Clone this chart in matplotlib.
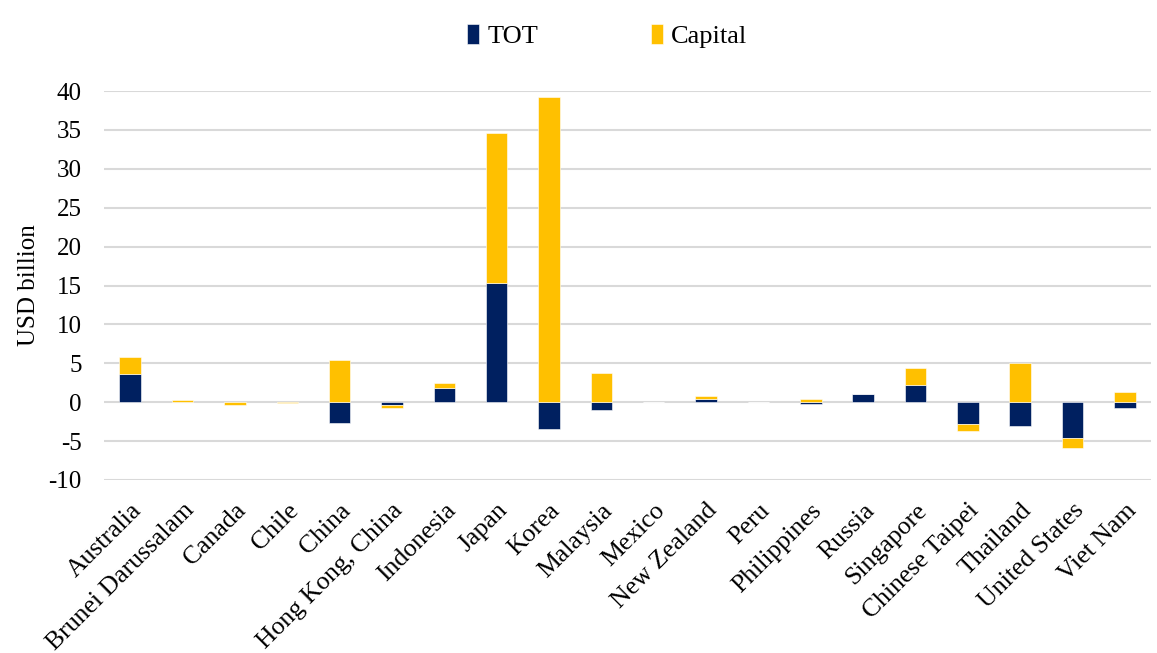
import numpy as np
import matplotlib.pyplot as plt

economies = ["Australia", "Brunei Darussalam", "Canada", "Chile", "China",
             "Hong Kong, China", "Indonesia", "Japan", "Korea", "Malaysia",
             "Mexico", "New Zealand", "Peru", "Philippines", "Russia",
             "Singapore", "Chinese Taipei", "Thailand", "United States", "Viet Nam"]
tot = [3.6, 0.0, 0.0, 0.0, -2.7, -0.35, 1.8, 15.3, -3.5, -1.0,
       0.0, 0.35, 0.0, -0.2, 1.1, 2.2, -2.75, -3.0, -4.65, -0.7]
capital = [2.2, 0.25, -0.3, -0.05, 5.4, -0.35, 0.65, 19.3, 39.3, 3.8,
           0.05, 0.45, 0.0, 0.4, 0.0, 2.2, -0.95, 5.05, -1.2, 1.3]

plt.rcParams["font.family"] = ["Liberation Serif", "DejaVu Serif"]
plt.rcParams["axes.unicode_minus"] = False

tot = np.array(tot)
capital = np.array(capital)
x = np.arange(len(economies))

# stack positives upward and negatives downward, like Excel
pos_base = np.where(tot > 0, tot, 0)
neg_base = np.where(tot < 0, tot, 0)
cap_bottom = np.where(capital >= 0, pos_base, neg_base)

fig = plt.figure(figsize=(11.57, 6.53), dpi=100)
ax = fig.add_axes([0.0899, 0.265, 0.905, 0.5955])

ax.bar(x, tot, width=0.41, color="#002060", edgecolor="white", linewidth=0.4,
       label="TOT", zorder=3)
ax.bar(x, capital, bottom=cap_bottom, width=0.41, color="#FFC000",
       edgecolor="white", linewidth=0.4, label="Capital", zorder=3)

ax.set_xlim(-0.5, len(economies) - 0.5)
ax.set_ylim(-10, 40)
ax.set_yticks(range(-10, 41, 5))
ax.grid(axis="y", color="#d9d9d9", linewidth=1.5, zorder=0)
for s in ax.spines.values():
    s.set_visible(False)
ax.tick_params(axis="y", length=0, labelsize=18, pad=16)
ax.tick_params(axis="x", length=0, labelsize=18.5, pad=14)
ax.set_xticks(x)
ax.set_xticklabels(economies, rotation=45, ha="right", rotation_mode="anchor")
ax.set_ylabel("USD billion", fontsize=18, labelpad=6)

fig.legend(loc="upper center", bbox_to_anchor=(0.525, 1.0), ncol=2,
           frameon=False, fontsize=19, handlelength=0.45, handleheight=0.8,
           handletextpad=0.3, columnspacing=4.3)

fig.savefig("out.png")
